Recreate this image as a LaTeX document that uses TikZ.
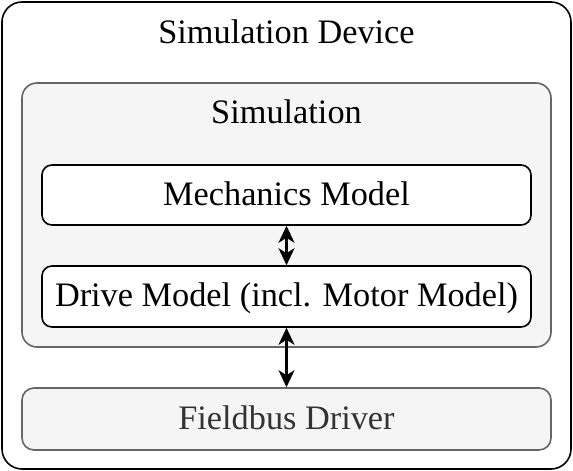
\documentclass[tikz,border=0pt]{standalone}
\usepackage{fontspec}
\setmainfont{Liberation Serif}
\usetikzlibrary{arrows.meta}
\definecolor{boxfill}{HTML}{F5F5F5}
\definecolor{boxstroke}{HTML}{666666}
\definecolor{fadedtext}{HTML}{333333}
\tikzset{
  box/.style={draw, line width=1.6pt, rectangle, inner sep=0pt},
  graybox/.style={box, draw=boxstroke, fill=boxfill},
  textlabel/.style={anchor=base, inner sep=0pt, font=\fontsize{34.3}{40}\selectfont},
  headtip/.tip={Stealth[length=17pt,width=16pt,inset=5pt]},
  biarrow/.style={line width=2.2pt, headtip-headtip}
}
\begin{document}
\begin{tikzpicture}[x=1pt,y=-1pt]
\useasboundingbox (0,0) rectangle (573,471);
\node[box, fill=white, rounded corners=20pt, minimum width=569pt, minimum height=467pt] (device) at (286.5,235.5) {};
\node[graybox, rounded corners=15pt, minimum width=529pt, minimum height=264pt] (sim) at (286.5,215) {};
\node[box, fill=white, rounded corners=10pt, minimum width=489pt, minimum height=60pt] (mech) at (286.5,195) {};
\node[box, fill=white, rounded corners=10pt, minimum width=489pt, minimum height=61pt] (drive) at (286.5,296.5) {};
\node[graybox, rounded corners=12pt, minimum width=529pt, minimum height=62pt] (bus) at (286.5,419) {};
\node[textlabel] (devicetext) at (286.5,43) {Simulation Device};
\node[textlabel] (simtext) at (286.5,123) {Simulation};
\node[textlabel] (mechtext) at (286.5,205) {Mechanics Model};
\node[textlabel] (drivetext) at (286.5,306.5) {Drive Model (incl. Motor Model)};
\node[textlabel, text=fadedtext] (bustext) at (286.5,429) {Fieldbus Driver};
\draw[biarrow] (mech.south) -- (drive.north);
\draw[biarrow] (drive.south) -- (bus.north);
\end{tikzpicture}
\end{document}
